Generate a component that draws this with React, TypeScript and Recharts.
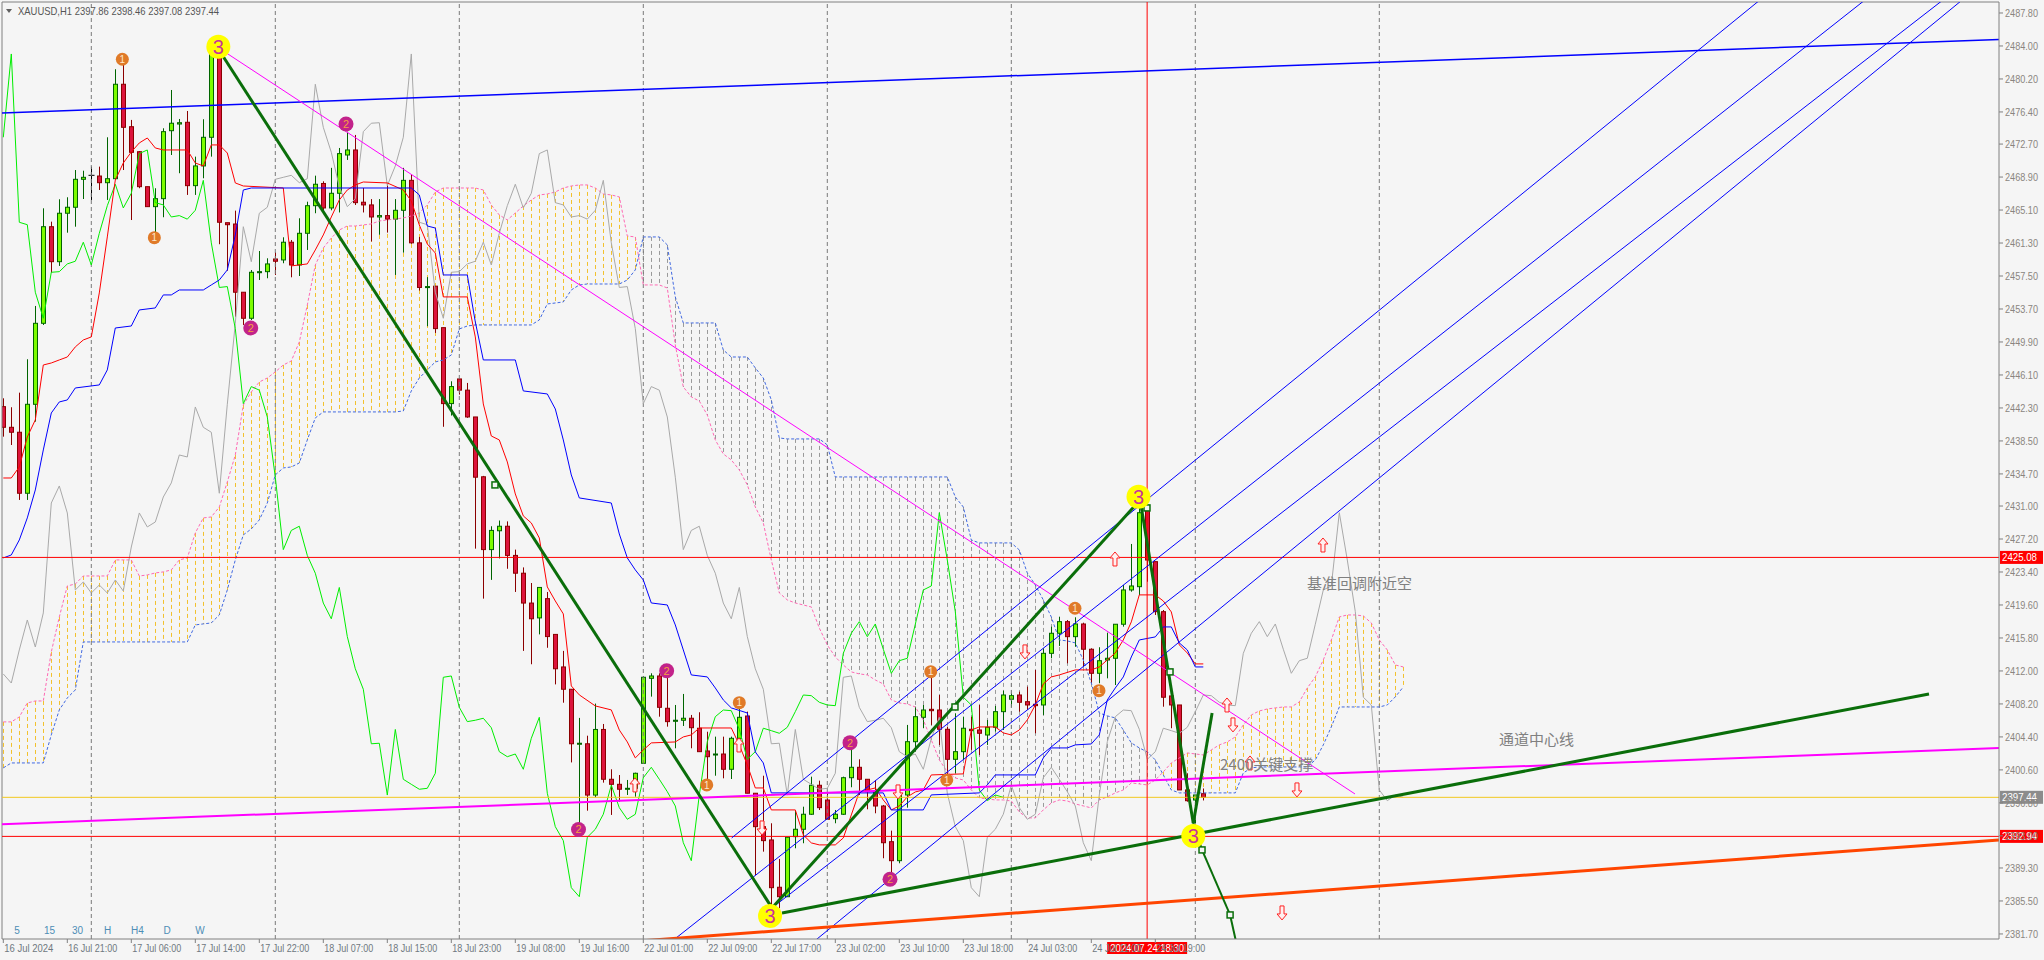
import React from 'react';
import { ComposedChart, Bar, Line, Scatter, XAxis, YAxis, ReferenceLine } from 'recharts';

// XAUUSD H1 candles, bar 0 = 16 Jul 13:00 ... bar 150 = 24 Jul 23:00
const opens = [
  2442.45, 2440.07, 2439.5, 2432.47, 2442.72, 2452.05, 2463.18, 2459.15, 2464.73, 2465.42,
  2468.64, 2469.1, 2469.02, 2468.25, 2468.71, 2479.59, 2474.7, 2471.82, 2467.79, 2465.49,
  2466.41, 2474.24, 2475.01, 2475.21, 2467.91, 2470.18, 2473.48, 2483.34, 2463.64, 2463.49,
  2455.63, 2452.63, 2457.88, 2458.0, 2459.46, 2459.35, 2461.39, 2458.77, 2462.42, 2465.6,
  2468.16, 2465.34, 2467.03, 2471.44, 2472.02, 2466.0, 2465.69, 2464.3, 2464.46, 2464.05,
  2465.07, 2468.52, 2461.32, 2456.18, 2456.33, 2451.55, 2442.8, 2445.64, 2444.35, 2441.26,
  2434.37, 2425.98, 2428.15, 2428.67, 2425.31, 2423.26, 2419.82, 2418.11, 2420.33, 2416.21,
  2412.46, 2409.89, 2403.61, 2403.61, 2397.7, 2405.26, 2399.52, 2398.94, 2398.37, 2398.48,
  2401.36, 2411.15, 2411.42, 2407.7, 2406.2, 2406.32, 2406.55, 2405.4, 2402.78, 2402.32,
  2402.43, 2400.67, 2404.24, 2406.81, 2397.91, 2394.06, 2392.53, 2387.08, 2385.99, 2392.91,
  2393.76, 2395.49, 2398.83, 2397.13, 2394.98, 2395.49, 2399.7, 2400.9, 2399.52, 2398.09,
  2396.44, 2392.33, 2390.14, 2397.71, 2403.85, 2406.66, 2407.58, 2407.5, 2405.28, 2401.82,
  2402.7, 2405.28, 2405.2, 2404.62, 2405.51, 2407.31, 2408.74, 2409.23, 2408.46, 2408.16,
  2408.08, 2414.03, 2416.34, 2417.68, 2415.95, 2417.41, 2414.5, 2411.73, 2413.26, 2413.46,
  2417.38, 2421.33, 2421.71, 2431.0, 2424.59, 2418.83, 2409.12, 2408.08, 2398.29, 2397.13,
  2397.86,
];
const highs = [
  2443.41, 2442.38, 2444.06, 2447.91, 2454.05, 2465.3, 2463.76, 2466.34, 2466.57, 2469.71,
  2469.63, 2470.1, 2470.1, 2473.48, 2481.32, 2482.77, 2475.48, 2471.9, 2467.79, 2467.61,
  2474.52, 2478.93, 2475.59, 2476.51, 2471.25, 2475.56, 2483.54, 2483.92, 2463.64, 2465.03,
  2455.63, 2458.19, 2460.38, 2459.54, 2460.23, 2461.96, 2461.65, 2464.15, 2466.06, 2469.06,
  2468.41, 2469.96, 2472.25, 2474.13, 2473.75, 2467.64, 2466.36, 2466.36, 2468.16, 2466.36,
  2469.96, 2469.19, 2462.0, 2457.37, 2456.33, 2451.55, 2445.37, 2445.68, 2445.18, 2441.26,
  2434.47, 2428.67, 2429.33, 2429.23, 2425.98, 2423.93, 2422.13, 2421.62, 2421.1, 2416.21,
  2414.31, 2409.89, 2406.59, 2404.54, 2408.24, 2405.89, 2400.67, 2400.01, 2399.44, 2400.28,
  2411.42, 2411.73, 2411.73, 2411.54, 2408.08, 2409.35, 2406.93, 2407.24, 2405.0, 2404.43,
  2404.43, 2404.43, 2407.7, 2407.31, 2397.91, 2399.93, 2394.45, 2390.34, 2392.84, 2395.98,
  2396.36, 2399.82, 2399.36, 2397.91, 2395.98, 2399.82, 2403.47, 2401.82, 2399.52, 2399.44,
  2396.56, 2393.6, 2397.71, 2405.78, 2407.88, 2408.08, 2412.11, 2409.23, 2405.58, 2407.12,
  2406.73, 2406.73, 2408.08, 2406.35, 2407.96, 2409.73, 2409.43, 2409.61, 2410.19, 2412.11,
  2414.61, 2417.1, 2418.25, 2417.87, 2418.18, 2417.56, 2414.61, 2414.73, 2416.41, 2417.38,
  2421.9, 2426.63, 2431.12, 2431.12, 2424.59, 2419.02, 2409.12, 2408.08, 2400.21, 2397.71,
  2398.46,
];
const lows = [
  2438.99, 2438.03, 2431.7, 2431.7, 2440.72, 2451.86, 2457.88, 2458.66, 2462.49, 2463.18,
  2466.37, 2466.26, 2467.41, 2466.26, 2468.64, 2469.71, 2463.95, 2467.61, 2465.49, 2462.03,
  2464.27, 2471.44, 2469.34, 2466.84, 2466.84, 2468.76, 2471.25, 2461.16, 2458.11, 2452.81,
  2451.86, 2452.43, 2457.04, 2457.24, 2457.62, 2458.97, 2457.35, 2457.5, 2460.5, 2464.73,
  2464.82, 2465.07, 2464.82, 2470.87, 2465.68, 2464.82, 2461.48, 2462.25, 2462.5, 2457.62,
  2460.19, 2461.21, 2455.82, 2451.71, 2450.94, 2440.13, 2441.42, 2443.84, 2441.16, 2426.09,
  2420.33, 2422.49, 2424.96, 2423.77, 2421.1, 2414.31, 2412.77, 2416.21, 2414.67, 2410.45,
  2408.34, 2401.46, 2393.84, 2395.9, 2397.45, 2399.13, 2395.41, 2396.94, 2397.71, 2397.51,
  2401.36, 2409.04, 2406.73, 2405.58, 2403.09, 2405.66, 2403.09, 2402.7, 2399.06, 2399.93,
  2399.63, 2399.55, 2404.05, 2397.91, 2388.49, 2391.18, 2384.46, 2384.66, 2385.99, 2391.57,
  2392.15, 2395.41, 2395.98, 2394.83, 2394.45, 2395.41, 2398.6, 2397.71, 2396.06, 2395.6,
  2390.42, 2387.92, 2389.84, 2396.25, 2402.7, 2405.4, 2405.78, 2403.47, 2399.44, 2400.21,
  2401.74, 2402.9, 2402.32, 2403.47, 2405.0, 2405.2, 2407.88, 2407.31, 2407.5, 2404.82,
  2406.93, 2413.46, 2414.88, 2412.88, 2414.8, 2412.49, 2410.58, 2410.58, 2411.15, 2410.38,
  2417.1, 2421.13, 2420.75, 2422.28, 2418.45, 2407.88, 2405.4, 2398.29, 2396.94, 2394.45,
  2397.08,
];
const closes = [
  2440.07, 2439.5, 2432.47, 2442.72, 2452.05, 2463.18, 2459.15, 2464.73, 2465.42, 2468.64,
  2468.87, 2469.1, 2468.25, 2468.71, 2479.59, 2474.63, 2471.75, 2467.79, 2465.49, 2466.41,
  2474.13, 2475.1, 2475.16, 2467.91, 2470.18, 2473.48, 2483.08, 2463.69, 2463.41, 2455.63,
  2452.63, 2457.93, 2458.0, 2458.89, 2459.2, 2461.39, 2458.77, 2462.42, 2465.6, 2468.07,
  2465.34, 2467.03, 2471.6, 2472.02, 2465.95, 2465.69, 2464.3, 2464.46, 2464.05, 2465.07,
  2468.52, 2461.32, 2456.18, 2456.28, 2451.44, 2442.8, 2444.76, 2444.35, 2441.26, 2434.32,
  2425.98, 2428.19, 2428.67, 2425.31, 2423.26, 2419.82, 2418.01, 2421.62, 2415.96, 2412.25,
  2409.89, 2403.61, 2403.67, 2397.7, 2405.26, 2399.52, 2398.94, 2398.37, 2398.48, 2400.21,
  2411.27, 2411.42, 2407.81, 2406.16, 2406.32, 2406.55, 2405.46, 2402.7, 2402.12, 2402.43,
  2400.67, 2404.24, 2406.66, 2397.91, 2394.06, 2392.45, 2387.03, 2385.99, 2392.84, 2393.76,
  2395.49, 2398.83, 2396.25, 2394.91, 2395.49, 2399.7, 2400.9, 2399.52, 2398.09, 2396.44,
  2392.21, 2390.14, 2397.71, 2403.85, 2406.73, 2407.5, 2407.42, 2405.28, 2401.82, 2402.7,
  2405.4, 2405.12, 2404.82, 2405.51, 2407.31, 2409.23, 2409.15, 2408.39, 2408.08, 2408.0,
  2414.03, 2416.34, 2417.68, 2415.95, 2417.41, 2414.5, 2411.73, 2413.18, 2413.46, 2417.38,
  2421.33, 2421.79, 2430.23, 2424.78, 2418.83, 2408.97, 2408.08, 2398.29, 2397.05, 2397.71,
  2397.44,
];
// closes of the 25 bars before bar 0 (only seen through the forward-shifted grey line)
const priorCloses = [
  2411.65, 2410.61, 2414.42, 2417.87, 2414.76, 2418.68, 2431.35, 2433.31, 2430.2, 2421.33,
  2422.25, 2420.98, 2421.9, 2420.98, 2422.48, 2421.21, 2426.28, 2430.2, 2428.59, 2429.16,
  2432.04, 2433.66, 2436.88, 2436.65, 2442.41,
];

// Ichimoku senkou spans, bars 0..175
const spanA = [
  2406.13, 2406.13, 2406.7, 2408.31, 2408.54, 2408.54, 2414.19, 2418.22, 2421.79, 2422.02,
  2422.94, 2422.94, 2422.94, 2422.94, 2424.79, 2424.79, 2424.79, 2422.94, 2423.06, 2423.29,
  2423.41, 2423.64, 2424.79, 2425.02, 2427.9, 2429.63, 2429.74, 2430.89, 2433.77, 2436.88,
  2442.64, 2444.14, 2445.29, 2445.75, 2446.45, 2447.25, 2447.71, 2449.9, 2454.16, 2458.77,
  2460.73, 2461.88, 2462.8, 2463.26, 2463.26, 2463.38, 2463.5, 2463.84, 2463.96, 2464.07,
  2464.19, 2464.42, 2464.76, 2465.68, 2467.18, 2467.64, 2467.64, 2467.64, 2467.64, 2467.64,
  2467.41, 2465.68, 2464.53, 2463.96, 2464.76, 2465.57, 2466.26, 2466.84, 2466.95, 2467.18,
  2467.64, 2467.87, 2467.99, 2467.99, 2467.64, 2466.95, 2466.84, 2466.61, 2462.11, 2462.0,
  2456.47, 2456.47, 2456.47, 2456.12, 2449.56, 2444.72, 2443.57, 2443.1, 2441.49, 2438.61,
  2437.0, 2436.31, 2435.16, 2433.43, 2430.89, 2429.05, 2424.79, 2420.99, 2420.18, 2419.83,
  2419.6, 2419.37, 2416.95, 2415.0, 2413.61, 2412.69, 2411.89, 2411.66, 2411.54, 2410.96,
  2410.5, 2408.66, 2408.31, 2408.2, 2407.85, 2406.36, 2404.05, 2401.75, 2400.37, 2399.67,
  2399.44, 2398.29, 2397.37, 2397.26, 2397.14, 2397.14, 2397.02, 2395.76, 2395.07, 2395.07,
  2395.99, 2396.79, 2397.14, 2397.02, 2396.68, 2396.45, 2396.22, 2397.14, 2397.49, 2397.95,
  2398.29, 2399.1, 2398.98, 2398.87, 2399.44, 2400.37, 2401.4, 2401.98, 2402.55, 2402.44,
  2402.32, 2402.9, 2403.48, 2403.82, 2404.4, 2405.78, 2406.93, 2407.39, 2407.62, 2407.74,
  2407.85, 2407.85, 2408.43, 2410.04, 2411.31, 2413.27, 2415.57, 2418.22, 2418.45, 2418.45,
  2418.34, 2417.53, 2415.57, 2414.42, 2412.69, 2412.46,
];
const spanB = [
  2400.83, 2401.4, 2401.4, 2401.4, 2401.4, 2401.4, 2404.63, 2407.51, 2408.89, 2409.81,
  2415.34, 2415.34, 2415.34, 2415.34, 2415.34, 2415.34, 2415.34, 2415.34, 2415.34, 2415.34,
  2415.34, 2415.34, 2415.34, 2415.34, 2417.3, 2417.42, 2417.53, 2418.45, 2421.33, 2424.79,
  2427.67, 2428.36, 2429.4, 2431.35, 2434.58, 2435.39, 2435.5, 2435.96, 2438.61, 2441.15,
  2441.84, 2441.84, 2441.84, 2441.84, 2441.84, 2441.84, 2441.84, 2441.84, 2441.84, 2441.84,
  2441.95, 2444.26, 2445.75, 2446.68, 2447.6, 2447.83, 2448.4, 2451.4, 2451.74, 2451.86,
  2451.86, 2451.86, 2451.86, 2451.86, 2451.86, 2451.86, 2451.86, 2452.44, 2454.28, 2454.39,
  2454.51, 2455.89, 2456.47, 2456.58, 2456.58, 2456.58, 2456.58, 2456.58, 2457.04, 2458.2,
  2462.0, 2462.0, 2462.0, 2461.08, 2455.09, 2452.09, 2452.09, 2452.09, 2452.09, 2452.09,
  2448.98, 2448.17, 2448.17, 2448.17, 2446.91, 2445.75, 2443.22, 2438.84, 2438.73, 2438.73,
  2438.73, 2438.73, 2438.73, 2438.04, 2434.35, 2434.35, 2434.35, 2434.35, 2434.35, 2434.35,
  2434.35, 2434.35, 2434.35, 2434.35, 2434.35, 2434.35, 2434.35, 2434.35, 2434.35, 2432.05,
  2430.89, 2427.09, 2426.75, 2426.75, 2426.75, 2426.75, 2426.75, 2425.94, 2423.29, 2421.91,
  2420.18, 2418.22, 2415.57, 2415.46, 2415.23, 2413.27, 2410.62, 2407.16, 2406.82, 2406.59,
  2405.2, 2403.71, 2403.13, 2402.67, 2401.75, 2400.02, 2398.29, 2397.95, 2397.95, 2397.95,
  2397.95, 2397.95, 2397.95, 2397.95, 2397.95, 2400.25, 2400.83, 2400.94, 2400.94, 2400.94,
  2400.94, 2400.94, 2400.94, 2400.94, 2401.75, 2403.48, 2405.55, 2407.85, 2407.85, 2407.85,
  2407.85, 2407.85, 2407.85, 2408.08, 2409.01, 2410.16,
];
// tenkan-sen / kijun-sen, [bar, price] at every corner of the line
const tenkan = [
  [0, 2434.23], [1, 2434.23], [2, 2435.5], [3, 2438.96], [4, 2440.92], [5, 2447.25], [6, 2447.48],
  [7, 2447.83], [8, 2448.17], [9, 2449.33], [10, 2450.13], [11, 2450.48], [12, 2455.55], [13, 2462.0],
  [14, 2468.56], [15, 2470.52], [16, 2471.79], [17, 2472.83], [18, 2473.4], [19, 2472.25], [20, 2472.02],
  [23, 2472.02], [24, 2470.52], [25, 2470.18], [26, 2472.6], [27, 2472.6], [28, 2471.67], [29, 2468.22],
  [30, 2467.87], [35, 2467.64], [36, 2458.66], [38, 2458.89], [39, 2460.5], [40, 2462.23], [41, 2464.3],
  [42, 2466.26], [43, 2467.41], [44, 2467.99], [45, 2468.33], [48, 2468.22], [50, 2467.41], [51, 2466.14],
  [52, 2463.38], [53, 2461.19], [54, 2460.15], [55, 2455.09], [58, 2455.09], [59, 2450.48], [60, 2442.76],
  [61, 2439.07], [62, 2438.61], [63, 2436.08], [64, 2432.39], [65, 2429.86], [66, 2429.05], [67, 2427.32],
  [68, 2421.68], [69, 2420.06], [70, 2418.57], [71, 2410.27], [72, 2409.24], [74, 2407.97], [76, 2407.51],
  [77, 2405.2], [78, 2403.82], [79, 2401.98], [80, 2402.9], [81, 2403.71], [84, 2403.82], [85, 2404.4],
  [86, 2404.63], [87, 2405.43], [91, 2405.43], [92, 2403.48], [93, 2401.17], [94, 2398.52], [95, 2398.52],
  [96, 2395.99], [99, 2395.99], [100, 2393.11], [101, 2392.19], [102, 2391.96], [104, 2391.96],
  [105, 2392.76], [106, 2395.41], [107, 2398.06], [109, 2398.52], [110, 2397.14], [111, 2395.99],
  [112, 2396.45], [113, 2397.49], [114, 2398.06], [115, 2398.29], [116, 2400.02], [120, 2400.14],
  [121, 2405.2], [122, 2405.55], [124, 2405.55], [125, 2404.86], [126, 2404.63], [127, 2405.2],
  [128, 2406.36], [129, 2408.08], [130, 2410.5], [131, 2411.31], [132, 2411.54], [134, 2412.12],
  [136, 2412.12], [137, 2412.46], [138, 2413.27], [139, 2414.07], [140, 2415.57], [141, 2417.65],
  [142, 2420.76], [144, 2420.76], [145, 2420.06], [146, 2418.8], [147, 2415.0], [148, 2414.07],
  [149, 2412.81], [150, 2412.81],
];
const kijun = [
  [0, 2425.02], [1, 2425.36], [2, 2427.09], [3, 2429.63], [4, 2432.85], [5, 2437.46], [6, 2441.72],
  [7, 2442.99], [8, 2443.22], [9, 2444.6], [12, 2444.95], [13, 2446.68], [14, 2451.51], [16, 2451.74],
  [17, 2453.59], [19, 2453.82], [20, 2455.32], [21, 2455.32], [22, 2455.89], [25, 2455.89], [26, 2456.47],
  [27, 2457.04], [28, 2458.2], [29, 2462.23], [30, 2467.41], [31, 2467.64], [51, 2467.64], [52, 2466.84],
  [53, 2463.26], [54, 2463.03], [55, 2457.62], [58, 2457.62], [59, 2452.21], [60, 2447.83], [64, 2447.83],
  [65, 2444.26], [68, 2443.91], [69, 2442.18], [70, 2438.61], [71, 2434.58], [72, 2431.93], [76, 2431.35],
  [77, 2427.78], [78, 2425.02], [79, 2423.64], [80, 2422.48], [81, 2419.83], [83, 2419.6], [84, 2417.3],
  [85, 2414.42], [86, 2411.54], [88, 2411.31], [89, 2410.04], [90, 2408.66], [91, 2407.74], [93, 2407.16],
  [94, 2402.67], [95, 2401.4], [96, 2397.95], [110, 2397.95], [111, 2395.99], [115, 2395.99],
  [116, 2397.72], [122, 2397.95], [123, 2398.87], [124, 2400.02], [129, 2400.02], [130, 2401.98],
  [131, 2403.13], [133, 2403.13], [134, 2403.48], [136, 2403.59], [137, 2404.63], [138, 2408.66],
  [139, 2410.04], [140, 2411.31], [141, 2413.61], [142, 2415.57], [144, 2415.92], [145, 2417.07],
  [146, 2417.07], [147, 2415.23], [148, 2414.42], [149, 2412.46], [150, 2412.46],
];

const timeTicks = [0, 8, 16, 24, 32, 40, 48, 56, 64, 72, 80, 88, 96, 104, 112, 120, 128, 136, 144];
const timeLabels = [
  '16 Jul 2024', '16 Jul 21:00', '17 Jul 06:00', '17 Jul 14:00', '17 Jul 22:00', '18 Jul 07:00',
  '18 Jul 15:00', '18 Jul 23:00', '19 Jul 08:00', '19 Jul 16:00', '22 Jul 01:00', '22 Jul 09:00',
  '22 Jul 17:00', '23 Jul 02:00', '23 Jul 10:00', '23 Jul 18:00', '24 Jul 03:00', '24 Jul 11:00',
  '24 Jul 19:00',
];
const priceTicks = [
  2487.8, 2484.0, 2480.2, 2476.4, 2472.7, 2468.9, 2465.1, 2461.3, 2457.5, 2453.7, 2449.9, 2446.1,
  2442.3, 2438.5, 2434.7, 2431.0, 2427.2, 2423.4, 2419.6, 2415.8, 2412.0, 2408.2, 2404.4, 2400.6,
  2396.8, 2393.0, 2389.3, 2385.5, 2381.7,
];
const dayStarts = [11, 34, 57, 80, 103, 126, 149, 172];

// drawn objects, [bar, price]
const blueTrend = [[-0.16, 2476.28], [249.46, 2484.75]];
const magentaLevel = [[-0.16, 2394.33], [249.46, 2403.12]];
const magentaFall = [[26.93, 2483.77], [168.96, 2397.83]];
const waveLine = [[26.96, 2483.54], [96.09, 2384.7], [142.1, 2431.7], [148.75, 2394.45], [151.1, 2407.16]];
const waveDrop = [[148.75, 2394.45], [149.84, 2391.38], [153.35, 2383.89], [154.6, 2378.7]];
const channelMid = [[97.34, 2384.12], [240.71, 2409.35]];
const orangeTrend = [[74.6, 2380.55], [249.46, 2392.53]];
const channelRays = [
  [[91.05, 2392.76], [227.25, 2495.06]],
  [[81.46, 2379.32], [240.63, 2495.06]],
  [[99.59, 2379.51], [249.44, 2492.76]],
  [[96.09, 2384.7], [247.3, 2492.76]],
];
const waveThree = [[26.88, 2483.92], [95.84, 2383.77], [141.9, 2432.08], [148.75, 2392.99]];
const waveTwo = [[30.93, 2451.51], [42.84, 2475.02], [71.9, 2393.74], [82.92, 2412.03], [105.84, 2403.74], [110.84, 2388.0]];
const waveOne = [[14.88, 2482.47], [18.88, 2461.92], [87.93, 2398.87], [92.0, 2408.35], [115.93, 2411.92], [117.93, 2399.44], [133.96, 2419.22], [136.96, 2409.73]];
const arrowsUp = [[164.96, 2426.51], [152.96, 2408.08], [155.84, 2401.4], [138.96, 2424.9], [78.96, 2398.87], [91.96, 2403.47]];
const arrowsDown = [[153.71, 2405.78], [161.71, 2398.29], [159.84, 2384.12], [127.71, 2414.19], [94.84, 2393.91], [111.84, 2398.06]];
const wavePoints = [[61.46, 2433.43], [118.96, 2407.85], [142.96, 2430.78], [145.84, 2411.89], [149.84, 2391.38], [153.35, 2383.89]];
const notes = [
  { k: 162.96, price: 2421.44, text: '基准回调附近空' },
  { k: 152.09, price: 2400.59, text: '2400关键支撑' },
  { k: 186.96, price: 2403.47, text: '通道中心线' },
];
const resistance = 2425.08;
const support = 2392.94;
const bid = 2397.44;
const cursorBar = 142.98;

const X_DOMAIN: [number, number] = [-0.1625, 249.4625];
const Y_DOMAIN: [number, number] = [2381.118, 2489.067];
const FONT = '"Liberation Sans", Arial, sans-serif';
const CJK = '"Noto Sans CJK SC", sans-serif';

const tenkanAt = new Map(tenkan.map(([k, v]) => [k, v]));
const kijunAt = new Map(kijun.map(([k, v]) => [k, v]));

const rows = spanA.map((a, k) => {
  const b = spanB[k];
  const has = k < closes.length;
  return {
    k,
    o: has ? opens[k] : null,
    h: has ? highs[k] : null,
    l: has ? lows[k] : null,
    c: has ? closes[k] : null,
    candle: has ? [lows[k], highs[k]] : null,
    cloud: [Math.min(a, b), Math.max(a, b)],
    bull: a >= b,
    spanA: a,
    spanB: b,
    tenkan: tenkanAt.get(k) ?? null,
    kijun: kijunAt.get(k) ?? null,
    chikou: k + 25 < closes.length ? closes[k + 25] : null,
    lagged: k < 25 ? priorCloses[k] : closes[k - 25] ?? null,
  };
});

const pts = (list: number[][]) => list.map(([k, price]) => ({ k, price }));
const segs = (list: number[][]) =>
  list.slice(1).map((p, i) => [{ x: list[i][0], y: list[i][1] }, { x: p[0], y: p[1] }]);

const Candle = (props: any) => {
  const { x, y, width, height, payload } = props;
  if (!payload || payload.o == null) return null;
  const { o, h, l, c } = payload;
  const top = Math.min(y, y + height);
  const span = Math.abs(height);
  const ppu = h > l ? span / (h - l) : 0;
  const yOf = (v: number) => top + (h - v) * ppu;
  const cx = Math.round(x + width / 2) + 0.5;
  const doji = o === c;
  const up = c > o;
  const edge = doji ? '#000000' : up ? '#006400' : '#8b0000';
  const bt = yOf(Math.max(o, c));
  const bb = yOf(Math.min(o, c));
  return (
    <g>
      <line x1={cx} x2={cx} y1={top} y2={top + span} stroke={edge} strokeWidth={1} />
      {doji ? (
        <line x1={cx - 3} x2={cx + 3} y1={bt} y2={bt} stroke="#000000" />
      ) : (
        <rect x={cx - 2} y={bt} width={4} height={Math.max(bb - bt, 1)} fill={up ? '#7cfc00' : '#dc143c'} stroke={edge} />
      )}
    </g>
  );
};

const Hatch = (props: any) => {
  const { x, y, width, height, payload } = props;
  if (!payload) return null;
  const cx = Math.round(x + width / 2) + 0.5;
  const top = Math.min(y, y + height);
  return (
    <line x1={cx} x2={cx} y1={top} y2={top + Math.abs(height)}
      stroke={payload.bull ? '#f2c12e' : '#9a9a9a'} strokeDasharray="4 3" strokeWidth={1} />
  );
};

const TimeTick = (props: any) => {
  const { x, index } = props;
  return (
    <g>
      <line x1={x} x2={x} y1={939} y2={943} stroke="#808080" />
      <text x={x + 1} y={952} fontSize={11} fontFamily={FONT} fill="#6f7880"
        textLength={49} lengthAdjust="spacingAndGlyphs">{timeLabels[index]}</text>
    </g>
  );
};

const PriceTick = (props: any) => {
  const { y, payload } = props;
  return (
    <g>
      <line x1={1999} x2={2003} y1={y} y2={y} stroke="#808080" />
      <text x={2005} y={y + 4} fontSize={11} fontFamily={FONT} fill="#8a8580"
        textLength={33} lengthAdjust="spacingAndGlyphs">{payload.value.toFixed(2)}</text>
    </g>
  );
};

const priceTag = (text: string, bg: string) => (props: any) => {
  const vb = props.viewBox || {};
  const x = vb.x + vb.width + 1;
  const y = vb.y;
  return (
    <g>
      <rect x={x} y={y - 6.5} width={43} height={13} fill={bg} />
      <text x={x + 2} y={y + 4} fontSize={11} fontFamily={FONT} fill="#ffffff"
        textLength={35} lengthAdjust="spacingAndGlyphs">{text}</text>
    </g>
  );
};

const timeTag = (props: any) => {
  const vb = props.viewBox || {};
  const x = vb.x;
  const y = vb.y + vb.height;
  return (
    <g>
      <rect x={x - 40} y={y + 3} width={80} height={12} fill="#ff0000" />
      <text x={x - 37} y={y + 13} fontSize={11} fontFamily={FONT} fill="#ffffff"
        textLength={74} lengthAdjust="spacingAndGlyphs">2024.07.24 18:30</text>
    </g>
  );
};

const badge = (fill: string, r: number, label: string, color: string, size: number) => (p: any) => (
  <g>
    <circle cx={p.cx} cy={p.cy} r={r} fill={fill} />
    <text x={p.cx} y={p.cy + size * 0.36} textAnchor="middle" fontSize={size} fontFamily={FONT} fill={color}>{label}</text>
  </g>
);

const arrow = (up: boolean) => (p: any) => {
  const s = up ? 1 : -1;
  const { cx, cy } = p;
  const d = `M${cx},${cy - 7 * s} L${cx + 5},${cy - 1 * s} L${cx + 2},${cy - 1 * s} L${cx + 2},${cy + 7 * s} L${cx - 2},${cy + 7 * s} L${cx - 2},${cy - 1 * s} L${cx - 5},${cy - 1 * s} Z`;
  return <path d={d} fill="#fff0f0" stroke="#ff2020" strokeWidth={1} />;
};

const square = (p: any) => (
  <rect x={p.cx - 3} y={p.cy - 3} width={6} height={6} fill="#f5f5f5" stroke="#0a6e0a" strokeWidth={1.5} />
);

const note = (p: any) => (
  <text x={p.cx} y={p.cy} fontSize={15} fontFamily={CJK} fill="#808080">{p.payload.text}</text>
);

export default function App() {
  return (
    <div style={{ position: 'absolute', left: 0, top: 0, width: 2044, height: 960, background: '#f5f5f5', overflow: 'hidden' }}>
      <ComposedChart width={2044} height={960} data={rows} margin={{ top: 2, right: 0, bottom: 0, left: 2 }}>
        <XAxis type="number" dataKey="k" domain={X_DOMAIN} ticks={timeTicks} interval={0} height={21}
          tick={<TimeTick />} tickLine={false} axisLine={{ stroke: '#808080' }} allowDataOverflow />
        <XAxis xAxisId="cloud" type="number" dataKey="k" domain={X_DOMAIN} hide allowDataOverflow />
        <YAxis orientation="right" type="number" domain={Y_DOMAIN} ticks={priceTicks} interval={0} width={45}
          tick={<PriceTick />} tickLine={false} axisLine={{ stroke: '#808080' }} allowDataOverflow />

        <ReferenceLine x={X_DOMAIN[0]} stroke="#808080" ifOverflow="visible" />
        <ReferenceLine y={Y_DOMAIN[1]} stroke="#808080" ifOverflow="visible" />
        {dayStarts.map((d) => (
          <ReferenceLine key={'d' + d} x={d} stroke="#7a7a7a" strokeDasharray="4 3" />
        ))}

        <Bar xAxisId="cloud" dataKey="cloud" barSize={3} shape={<Hatch />} isAnimationActive={false} />
        <Line dataKey="spanA" stroke="#ff69b4" strokeDasharray="3 2" dot={false} activeDot={false} isAnimationActive={false} />
        <Line dataKey="spanB" stroke="#4169e1" strokeDasharray="3 2" dot={false} activeDot={false} isAnimationActive={false} />

        <Bar dataKey="candle" barSize={5} shape={<Candle />} isAnimationActive={false} />

        <Line dataKey="lagged" stroke="#a9a9a9" dot={false} activeDot={false} isAnimationActive={false} />
        <Line dataKey="chikou" stroke="#00ee00" dot={false} activeDot={false} isAnimationActive={false} />
        <Line dataKey="tenkan" stroke="#ff0000" connectNulls dot={false} activeDot={false} isAnimationActive={false} />
        <Line dataKey="kijun" stroke="#0000ff" connectNulls dot={false} activeDot={false} isAnimationActive={false} />

        <ReferenceLine y={resistance} stroke="#ff0000" label={priceTag('2425.08', '#ff0000')} />
        <ReferenceLine y={bid} stroke="#f2c81e" label={priceTag('2397.44', '#8c8c8c')} />
        <ReferenceLine y={support} stroke="#ff0000" label={priceTag('2392.94', '#ff0000')} />
        <ReferenceLine x={cursorBar} stroke="#ff0000" label={timeTag} />

        {segs(blueTrend).map((s, i) => <ReferenceLine key={'bt' + i} segment={s} stroke="#0000ff" strokeWidth={1.5} ifOverflow="hidden" />)}
        {segs(magentaLevel).map((s, i) => <ReferenceLine key={'ml' + i} segment={s} stroke="#ff00ff" strokeWidth={2} ifOverflow="hidden" />)}
        {segs(magentaFall).map((s, i) => <ReferenceLine key={'mf' + i} segment={s} stroke="#ff00ff" ifOverflow="hidden" />)}
        {channelRays.map((r, i) => <ReferenceLine key={'cr' + i} segment={segs(r)[0]} stroke="#0000ff" ifOverflow="hidden" />)}
        {segs(orangeTrend).map((s, i) => <ReferenceLine key={'ot' + i} segment={s} stroke="#ff4500" strokeWidth={3} ifOverflow="hidden" />)}
        {segs(channelMid).map((s, i) => <ReferenceLine key={'cm' + i} segment={s} stroke="#0a6e0a" strokeWidth={3} ifOverflow="hidden" />)}
        {segs(waveLine).map((s, i) => <ReferenceLine key={'wl' + i} segment={s} stroke="#0a6e0a" strokeWidth={3} ifOverflow="hidden" />)}
        {segs(waveDrop).map((s, i) => <ReferenceLine key={'wd' + i} segment={s} stroke="#0a6e0a" strokeWidth={2} ifOverflow="hidden" />)}

        <Scatter data={pts(wavePoints)} dataKey="price" shape={square} isAnimationActive={false} />
        <Scatter data={pts(arrowsUp)} dataKey="price" shape={arrow(true)} isAnimationActive={false} />
        <Scatter data={pts(arrowsDown)} dataKey="price" shape={arrow(false)} isAnimationActive={false} />
        <Scatter data={pts(waveOne)} dataKey="price" shape={badge('#e07a28', 6.5, '1', '#fde8cc', 10)} isAnimationActive={false} />
        <Scatter data={pts(waveTwo)} dataKey="price" shape={badge('#c2238a', 7.5, '2', '#f4a040', 11)} isAnimationActive={false} />
        <Scatter data={pts(waveThree)} dataKey="price" shape={badge('#ffff00', 12, '3', '#c8329b', 20)} isAnimationActive={false} />
        <Scatter data={notes} dataKey="price" shape={note} isAnimationActive={false} />
      </ComposedChart>

      <svg width={2044} height={960} style={{ position: 'absolute', left: 0, top: 0, pointerEvents: 'none' }}>
        <path d="M6,9 L12,9 L9,13 Z" fill="#606060" />
        <text x={18} y={14.5} fontSize={11} fontFamily={FONT} fill="#555555" textLength={201} lengthAdjust="spacingAndGlyphs">
          XAUUSD,H1  2397.86 2398.46 2397.08 2397.44
        </text>
        {['5', '15', '30', 'H', 'H4', 'D', 'W'].map((t, i) => (
          <text key={t} x={[17, 49.5, 77.5, 107.5, 137.5, 167, 200][i]} y={934} textAnchor="middle"
            fontSize={10} fontFamily={FONT} fill="#4d8db5">{t}</text>
        ))}
      </svg>
    </div>
  );
}
